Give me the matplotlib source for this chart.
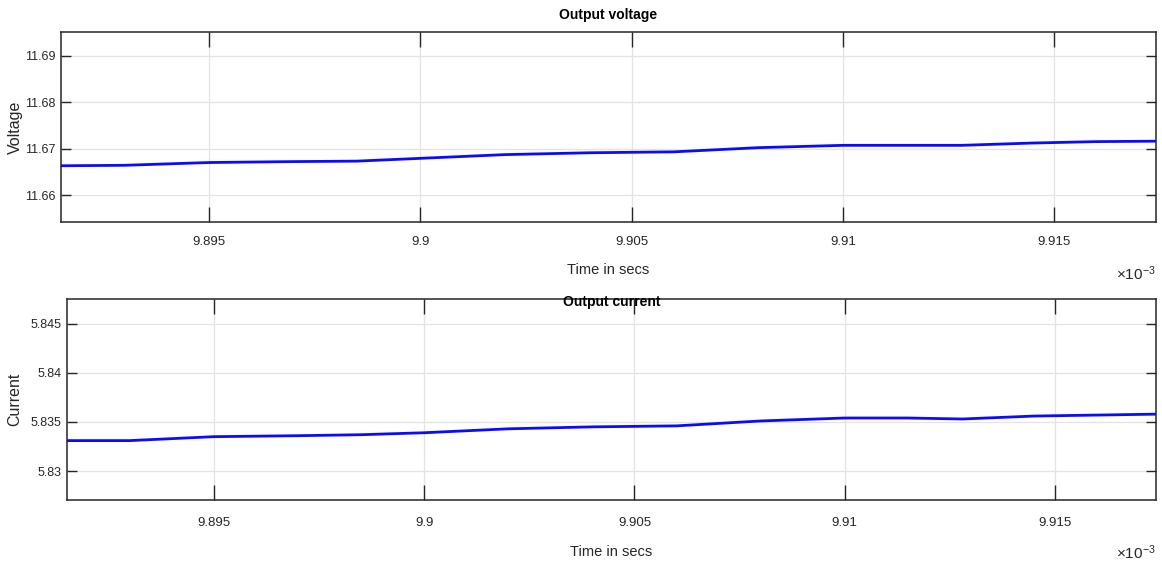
import matplotlib
matplotlib.use("Agg")
import matplotlib.pyplot as plt
import numpy as np

# time axis in units of 1e-3 s
t_ms = [9.8915, 9.8930, 9.8950, 9.8970, 9.8985, 9.9000, 9.9020, 9.9040,
        9.9060, 9.9080, 9.9100, 9.9115, 9.9128, 9.9145, 9.9160, 9.9175]
voltage = [11.6663, 11.6664, 11.6670, 11.6672, 11.6673, 11.6679, 11.6687, 11.6691,
           11.6693, 11.6702, 11.6707, 11.6707, 11.6707, 11.6712, 11.6715, 11.6716]
current = [5.8331, 5.8331, 5.8335, 5.8336, 5.8337, 5.8339, 5.8343, 5.8345,
           5.8346, 5.8351, 5.8354, 5.8354, 5.8353, 5.8356, 5.8357, 5.8358]

x_ticks = [9.895, 9.9, 9.905, 9.91, 9.915]
x_ticklabels = ["9.895", "9.9", "9.905", "9.91", "9.915"]
v_ticks = [11.66, 11.67, 11.68, 11.69]
i_ticks = [5.83, 5.835, 5.84, 5.845]

plt.rcParams['font.family'] = ['Liberation Sans', 'DejaVu Sans']
plt.rcParams['mathtext.fontset'] = 'custom'
plt.rcParams['mathtext.rm'] = 'Liberation Sans'
plt.rcParams['mathtext.it'] = 'Liberation Sans:italic'

fig = plt.figure(figsize=(11.62, 5.66), dpi=100)
ax1 = fig.add_axes([0.0525, 0.6078, 0.9423, 0.3357])
ax2 = fig.add_axes([0.0574, 0.1166, 0.9374, 0.3551])

def style(ax, ylim, yticks, ylabel, title, xpad, title_y, xlab_y, ylab_x, exp_y):
    ax.set_xlim(9.8915, 9.9174)
    ax.set_ylim(*ylim)
    ax.set_xticks(x_ticks)
    ax.set_xticklabels(x_ticklabels)
    ax.set_yticks(yticks)
    ax.set_yticklabels([f"{v:g}" for v in yticks])
    ax.grid(True, color='#e3e3e3', linewidth=0.9)
    ax.set_axisbelow(True)
    ax.tick_params(axis='x', direction='in', length=11, width=1, top=True,
                   labelsize=9.5, colors='#262626', pad=xpad)
    ax.tick_params(axis='y', direction='in', length=7.5, width=1, right=True,
                   labelsize=9, colors='#262626', pad=4)
    for s in ax.spines.values():
        s.set_color('#262626')
        s.set_linewidth(1.1)
    ax.set_xlabel("Time in secs", fontsize=10.5, color='#262626')
    ax.xaxis.set_label_coords(0.5, xlab_y)
    ax.xaxis.label.set_va('center')
    ax.set_ylabel(ylabel, fontsize=11.5, color='#262626')
    ax.yaxis.set_label_coords(ylab_x, 0.5)
    ax.yaxis.label.set_va('center')
    ax.set_title(title, fontsize=10, fontweight='bold', y=title_y, va='center', pad=0)
    ax.text(1.0, exp_y, r"$\times$10$^{-3}$", transform=ax.transAxes,
            ha='right', va='center', fontsize=11, color='#262626')

ax1.plot(t_ms, voltage, color='#0a0aff', linewidth=2)
style(ax1, (11.6542, 11.6951), v_ticks, "Voltage", "Output voltage",
      10, 1.089, -0.2526, -0.042, -0.27)

ax2.plot(t_ms, current, color='#0a0aff', linewidth=2)
style(ax2, (5.82705, 5.84752), i_ticks, "Current", "Output current",
      12.5, 0.985, -0.2587, -0.0475, -0.26)

fig.savefig("out.png", dpi=100)
